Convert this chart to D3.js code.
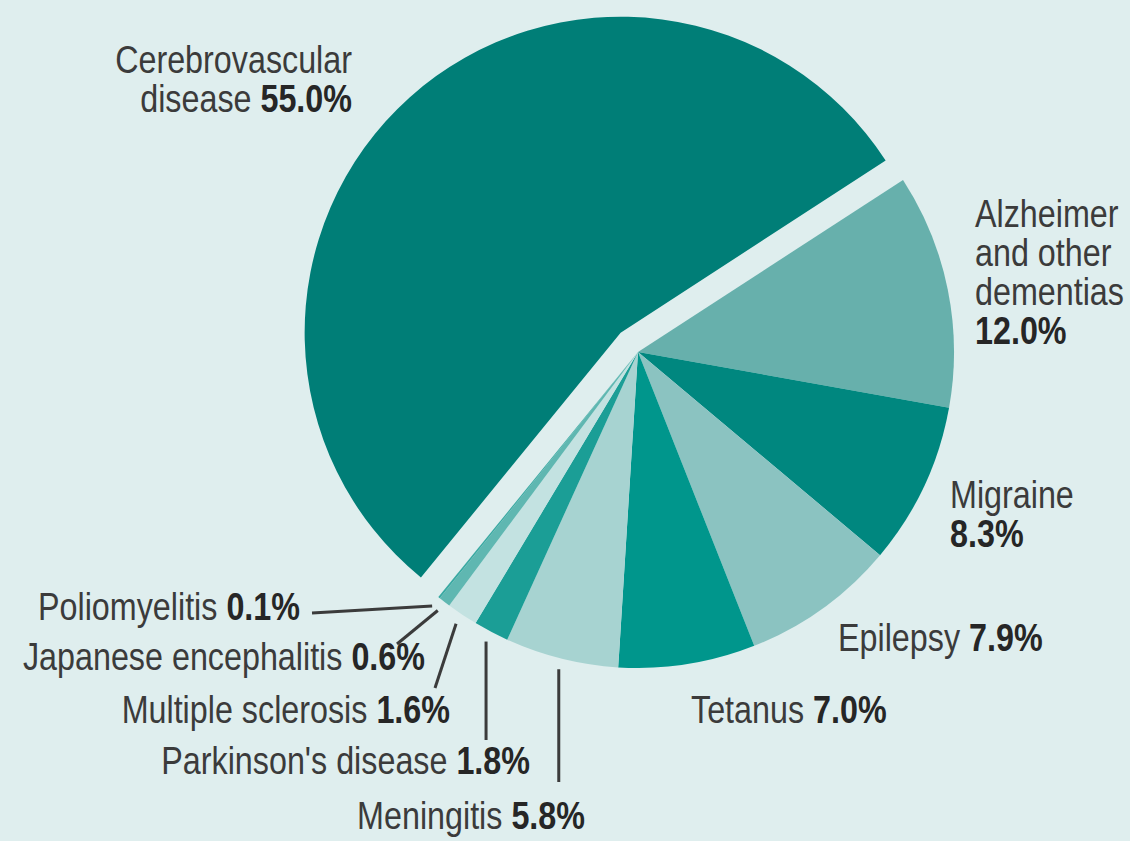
<!DOCTYPE html>
<meta charset="utf-8" />
<title>Neurological disorders – share of deaths</title>
<style>
  body { margin: 0; background: #dfeeee; }
  svg { display: block; background: #dfeeee; }
  text {
    font-family: "Liberation Sans", Arial, sans-serif;
    font-size: 38px;
    fill: #3b3b3b;
  }
  tspan.val { font-weight: bold; fill: #262626; }
  line.leader { stroke: #3b3b3b; stroke-width: 3px; }
</style>

<body>
  <svg width="1130" height="841"></svg>

  <script src="https://d3js.org/d3.v7.min.js"></script>
  <script>
    const width = 1130, height = 841;

    // data, clockwise from the Alzheimer slice
    const categories = ["Alzheimer and other dementias", "Migraine", "Epilepsy", "Tetanus", "Meningitis",
      "Parkinson's disease", "Multiple sclerosis", "Japanese encephalitis", "Poliomyelitis", "Cerebrovascular disease"];
    const shares = [12.0, 8.3, 7.9, 7.0, 5.8, 1.8, 1.6, 0.6, 0.1, 55.0];
    const sliceColors = ["#67b0ac", "#00877f", "#8bc3c1", "#00968c", "#a7d3d1",
      "#1b9e96", "#c3e2e1", "#5fb7b1", "#3aa9a2", "#007e77"];
    // how each label is broken into lines (value goes on the last line)
    const labelLines = [
      ["Alzheimer", "and other", "dementias", ""],
      ["Migraine", ""],
      ["Epilepsy"],
      ["Tetanus"],
      ["Meningitis"],
      ["Parkinson's disease"],
      ["Multiple sclerosis"],
      ["Japanese encephalitis"],
      ["Poliomyelitis"],
      ["Cerebrovascular", "disease"]
    ];

    // label layout (x, first baseline, anchor) and leader line ends
    const labelLayout = [
      { x: 975, y: 227, anchor: "start" },
      { x: 950, y: 508, anchor: "start" },
      { x: 838, y: 651, anchor: "start" },
      { x: 691, y: 723, anchor: "start" },
      { x: 585, y: 829, anchor: "end", leader: { vertical: true, y2: 782 } },
      { x: 530, y: 774, anchor: "end", leader: { vertical: true, y2: 740 } },
      { x: 450, y: 723, anchor: "end", leader: { x2: 435, y2: 688 } },
      { x: 425, y: 670, anchor: "end", leader: { x2: 397, y2: 644 } },
      { x: 300, y: 620, anchor: "end", leader: { x2: 312, y2: 613 } },
      { x: 352, y: 73, anchor: "end" }
    ];
    const lineHeight = 39;
    const narrow = 0.85; // condensed look of the original type

    const cx = 638, cy = 352, radius = 316;
    const explode = 26;
    const startDeg = 57;

    const svg = d3.select("svg")
      .attr("width", width)
      .attr("height", height);

    const pie = d3.pie()
      .sort(null)
      .value(d => d)
      .startAngle(startDeg * Math.PI / 180)
      .endAngle(startDeg * Math.PI / 180 + 2 * Math.PI);

    const arcs = pie(shares);
    const arc = d3.arc().innerRadius(0).outerRadius(radius);

    const chart = svg.append("g").attr("transform", `translate(${cx},${cy})`);

    // slices; the cerebrovascular slice is pulled out
    chart.append("g")
      .selectAll("path")
      .data(arcs)
      .join("path")
      .attr("fill", (d, i) => sliceColors[i])
      .attr("d", arc)
      .attr("transform", (d, i) => {
        if (categories[i] !== "Cerebrovascular disease") return null;
        const mid = (d.startAngle + d.endAngle) / 2;
        return `translate(${Math.sin(mid) * explode},${-Math.cos(mid) * explode})`;
      });

    // leader lines for the small slices
    const leaderData = arcs.map((d, i) => ({ d, i, lay: labelLayout[i] })).filter(o => o.lay.leader);
    svg.append("g")
      .selectAll("line")
      .data(leaderData)
      .join("line")
      .attr("class", "leader")
      .each(function(o) {
        const mid = (o.d.startAngle + o.d.endAngle) / 2;
        const r0 = radius + 11;
        const x1 = cx + Math.sin(mid) * r0;
        const y1 = cy - Math.cos(mid) * r0;
        const ld = o.lay.leader;
        d3.select(this)
          .attr("x1", x1).attr("y1", y1)
          .attr("x2", ld.vertical ? x1 : ld.x2)
          .attr("y2", ld.y2);
      });

    // labels
    const labels = svg.append("g")
      .selectAll("text")
      .data(categories)
      .join("text")
      .attr("text-anchor", (d, i) => labelLayout[i].anchor)
      .attr("transform", (d, i) => `translate(${labelLayout[i].x},${labelLayout[i].y}) scale(${narrow},1)`);

    labels.each(function(name, i) {
      const t = d3.select(this);
      const lines = labelLines[i];
      lines.forEach((ln, k) => {
        const row = t.append("tspan")
          .attr("x", 0)
          .attr("y", k * lineHeight);
        row.append("tspan").text(ln);
        if (k === lines.length - 1) {
          row.append("tspan")
            .attr("class", "val")
            .text((ln ? " " : "") + d3.format(".1f")(shares[i]) + "%");
        }
      });
    });
  </script>
</body>
